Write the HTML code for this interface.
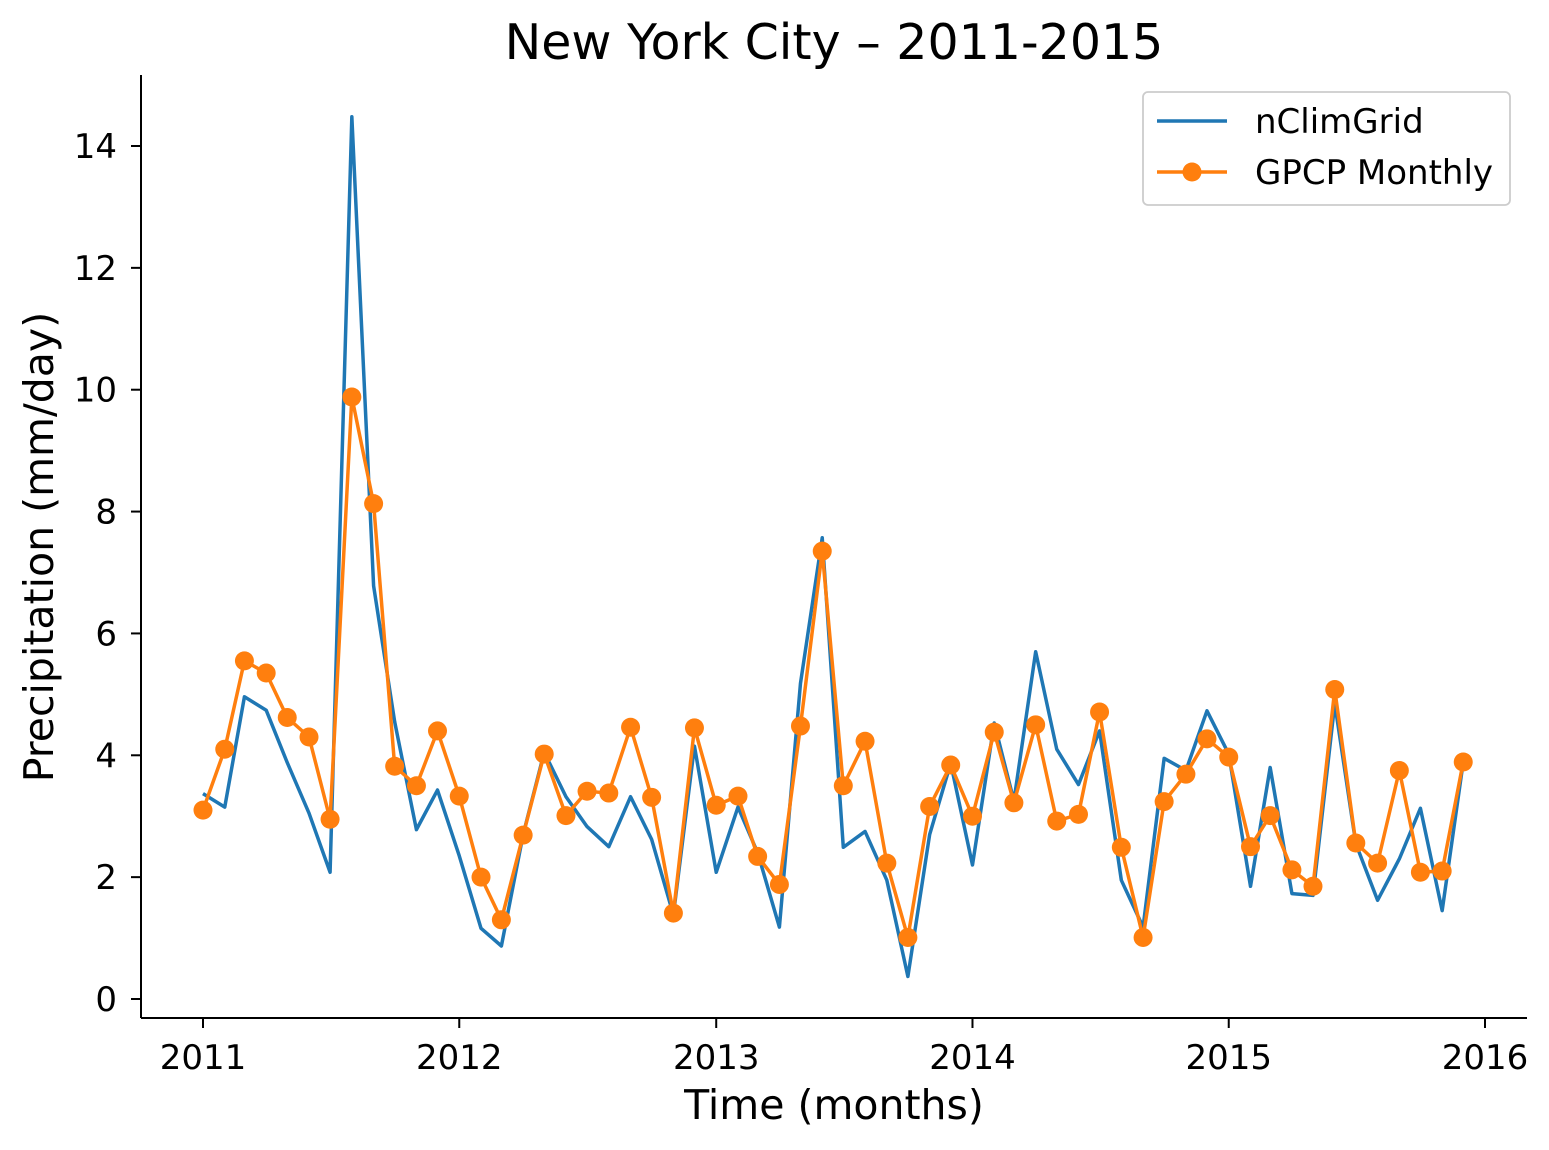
<!DOCTYPE html>
<html><head><meta charset="utf-8"><style>
html,body{margin:0;padding:0;background:#fff}
svg{display:block;font-family:"DejaVu Sans","Liberation Sans",sans-serif}
</style></head><body>
<svg id="chart" width="1549" height="1150" viewBox="0 0 1549 1150">
<text x="834" y="59" font-size="49" text-anchor="middle">New York City – 2011-2015</text>
<g id="marks"></g>
<line x1="141" y1="75" x2="141" y2="1018" stroke="#000" stroke-width="2"/>
<line x1="141" y1="1018" x2="1527" y2="1018" stroke="#000" stroke-width="2"/>
<g id="ticks"></g>
<text x="834" y="1119" font-size="41" text-anchor="middle">Time (months)</text>
<text transform="translate(53,547) rotate(-90)" font-size="41" text-anchor="middle">Precipitation (mm/day)</text>
<g>
<rect x="1143" y="92" width="367" height="113" rx="5" fill="#fff" stroke="#ccc" stroke-width="1.8"/>
<line x1="1157" y1="121" x2="1227" y2="121" stroke="#1f77b4" stroke-width="3.5"/>
<text x="1255" y="133" font-size="34">nClimGrid</text>
<line x1="1157" y1="172" x2="1227" y2="172" stroke="#ff7f0e" stroke-width="3.5"/>
<circle cx="1192" cy="172" r="9.5" fill="#ff7f0e"/>
<text x="1255" y="184" font-size="34">GPCP Monthly</text>
</g>
</svg>
<script>
const startYear = 2011;
const nClimGrid = [3.37,3.15,4.96,4.74,3.88,3.05,2.08,14.48,6.78,4.55,2.78,3.43,
2.35,1.16,0.87,2.7,4.05,3.32,2.83,2.5,3.32,2.62,1.38,4.15,
2.08,3.15,2.4,1.18,5.18,7.57,2.49,2.75,1.95,0.37,2.7,3.87,
2.2,4.53,3.25,5.7,4.1,3.52,4.4,1.95,1.18,3.95,3.75,4.73,
4.02,1.85,3.8,1.73,1.7,4.85,2.55,1.62,2.3,3.13,1.45,3.89];
const gpcp = [3.1,4.1,5.55,5.35,4.62,4.3,2.95,9.88,8.13,3.82,3.5,4.4,
3.33,2.0,1.3,2.69,4.02,3.01,3.41,3.38,4.46,3.31,1.41,4.45,
3.18,3.33,2.34,1.88,4.48,7.35,3.5,4.23,2.23,1.01,3.16,3.84,
3.0,4.38,3.22,4.5,2.92,3.03,4.71,2.49,1.01,3.24,3.69,4.27,
3.97,2.5,3.01,2.12,1.85,5.08,2.56,2.23,3.75,2.08,2.1,3.89];
const yTicks = [0,2,4,6,8,10,12,14];
const xTicks = [2011,2012,2013,2014,2015,2016];
const NS="http://www.w3.org/2000/svg";
const t0 = Date.UTC(2011,0,1), t1 = Date.UTC(2016,0,1);
function xT(ms){return 203 + (ms-t0)/(t1-t0)*(1485-203);}
function xM(i){return xT(Date.UTC(startYear+Math.floor(i/12), i%12, 1));}
function y(v){return 999 - v*(999-146)/14;}
function el(tag,attrs,parent){const e=document.createElementNS(NS,tag);for(const k in attrs)e.setAttribute(k,attrs[k]);parent.appendChild(e);return e;}
const marks=document.getElementById('marks'), ticks=document.getElementById('ticks');
const p1=el('polyline',{points:nClimGrid.map((v,i)=>xM(i)+','+y(v)).join(' '),fill:'none',stroke:'#1f77b4','stroke-width':3.5,'stroke-linejoin':'round'},marks);


const p2=el('polyline',{points:gpcp.map((v,i)=>xM(i)+','+y(v)).join(' '),fill:'none',stroke:'#ff7f0e','stroke-width':3.5,'stroke-linejoin':'round'},marks);


gpcp.forEach((v,i)=>{const c=el('circle',{cx:xM(i),cy:y(v),r:9.5,fill:'#ff7f0e'},marks);

});
yTicks.forEach(v=>{el('line',{x1:131,x2:141,y1:y(v),y2:y(v),stroke:'#000','stroke-width':2},ticks);
const t=el('text',{x:117,y:y(v)+12,'font-size':34,'text-anchor':'end'},ticks);t.textContent=v;

});
xTicks.forEach(v=>{const x=xT(Date.UTC(v,0,1));el('line',{x1:x,x2:x,y1:1018,y2:1028,stroke:'#000','stroke-width':2},ticks);
const t=el('text',{x:x,y:1069,'font-size':34,'text-anchor':'middle'},ticks);t.textContent=v;

});
</script>
</body></html>
